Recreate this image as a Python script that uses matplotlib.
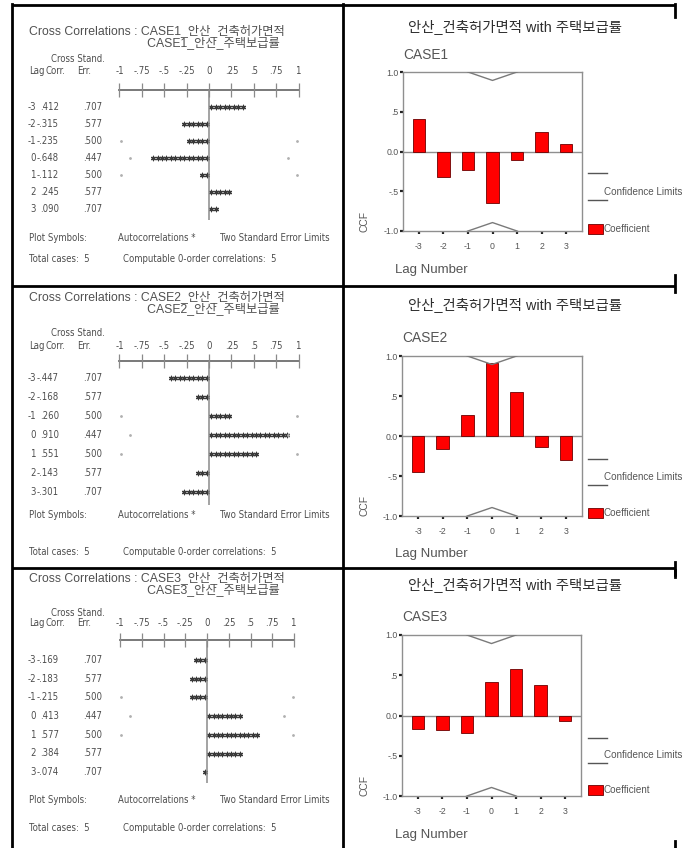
import os
import numpy as np
import matplotlib
matplotlib.use("Agg")
import matplotlib.pyplot as plt
from matplotlib import font_manager as fm
from matplotlib.font_manager import FontProperties

# ---------------- data ----------------
lags = [-3, -2, -1, 0, 1, 2, 3]
std_err = [0.707, 0.577, 0.500, 0.447, 0.500, 0.577, 0.707]
case1_ccf = [0.412, -0.315, -0.235, -0.648, -0.112, 0.245, 0.090]
case2_ccf = [-0.447, -0.168, 0.260, 0.910, 0.551, -0.143, -0.301]
case3_ccf = [-0.169, -0.183, -0.215, 0.413, 0.577, 0.384, -0.074]
case_names = ["CASE1", "CASE2", "CASE3"]
var_x = "안산_건축허가면적"
var_y = "안산_주택보급률"
chart_title = "안산_건축허가면적 with 주택보급률"
scale_ticks = [-1, -0.75, -0.5, -0.25, 0, 0.25, 0.5, 0.75, 1]
scale_labels = ["-1", "-.75", "-.5", "-.25", "0", ".25", ".5", ".75", "1"]
ccf_yticks = [-1.0, -0.5, 0.0, 0.5, 1.0]
ccf_ylabels = ["-1.0", "-.5", "0.0", ".5", "1.0"]
total_cases = 5
all_ccf = [case1_ccf, case2_ccf, case3_ccf]

W, H = 693, 848
fig = plt.figure(figsize=(W / 100, H / 100), dpi=100)
fig.patch.set_facecolor("white")
renderer = fig.canvas.get_renderer()

# ---------------- fonts ----------------
files = [f.fname for f in fm.fontManager.ttflist]
cond_fp = None
for p in ["LiberationSansNarrow-Regular", "DejaVuSansCondensed.ttf",
          "RobotoCondensed-Regular", "Roboto_Condensed-Regular",
          "OpenSans_Condensed-Regular"]:
    m = [x for x in files if os.path.basename(x).startswith(p)]
    if m:
        cond_fp = FontProperties(fname=m[0])
        break
if cond_fp is None:
    cond_fp = FontProperties(family="DejaVu Sans")

mix_family = ["Liberation Sans", "Noto Sans CJK KR", "DejaVu Sans"]
sans_family = ["Liberation Sans", "DejaVu Sans"]


def width_px(s, **kw):
    t = fig.text(0, 0, s, **kw)
    w = t.get_window_extent(renderer).width
    t.remove()
    return w


def fit_size(s, target, **kw):
    return 10.0 * target / width_px(s, fontsize=10, **kw)


def cfp(size):
    fp = cond_fp.copy()
    fp.set_size(size)
    return fp


mono_size = 10.0 * 110 / width_px("Two Standard Error Limits", fontproperties=cfp(10))
head_size = fit_size("Cross Correlations : CASE1_" + var_x, 256, family=mix_family)
title_size = fit_size(chart_title, 214, family=mix_family)
case_size = fit_size("CASE1", 45, family=sans_family)
lagnum_size = fit_size("Lag Number", 73, family=sans_family)
leg_size = fit_size("Confidence Limits", 79, family=sans_family)
tick_size = fit_size("1.0", 12, family=sans_family)

# spaces needed to indent the second header line under the case name
prefix_w = width_px("Cross Correlations : ", family=mix_family, fontsize=head_size)
sp10 = (width_px("x" + " " * 10 + "x", family=mix_family, fontsize=head_size)
        - width_px("xx", family=mix_family, fontsize=head_size)) / 10.0
n_indent = int(round((prefix_w + 7) / sp10))

# ---------------- background / table ----------------
bg = fig.add_axes([0, 0, 1, 1])
bg.set_xlim(0, W)
bg.set_ylim(H, 0)
bg.axis("off")
bg.set_zorder(-1)
lw_tab = 2.0
bg.plot([12, 675], [5, 5], color="black", lw=lw_tab, solid_capstyle="butt")
bg.plot([12, 675], [286, 286], color="black", lw=lw_tab, solid_capstyle="butt")
bg.plot([12, 675], [568, 568], color="black", lw=lw_tab, solid_capstyle="butt")
bg.plot([12, 12], [4, H], color="black", lw=lw_tab)
bg.plot([343, 343], [4, H], color="black", lw=lw_tab)
for y0, y1 in [(4, 17), (275, 292), (562, 575), (570, 577), (841, 848)]:
    bg.plot([675, 675], [y0, y1], color="black", lw=lw_tab)

txt_col = "#4d4d4d"


def fmt(v):
    s = f"{v:.3f}"
    return s.replace("0.", ".", 1)


# ---------------- left (text output) panels ----------------
left_layout = [
    dict(top=5, bottom=286, zx=209, unit=89.5, head=37, cs=59, lg=71, ax_y=90,
         row0=107, dy=17.0, vb=220, ps=238, tc=259),
    dict(top=286, bottom=568, zx=209, unit=89.5, head=303, cs=333, lg=346, ax_y=361,
         row0=378, dy=19.0, vb=505, ps=515, tc=552),
    dict(top=568, bottom=848, zx=207, unit=87.0, head=584, cs=613, lg=623, ax_y=640,
         row0=660, dy=18.7, vb=783, ps=800, tc=828),
]

for ci, L in enumerate(left_layout):
    ccf = all_ccf[ci]
    name = case_names[ci]
    x0, x1 = 12, 343
    ax = fig.add_axes([x0 / W, 1 - L["bottom"] / H, (x1 - x0) / W, (L["bottom"] - L["top"]) / H])
    ax.set_xlim((x0 - L["zx"]) / L["unit"], (x1 - L["zx"]) / L["unit"])
    ax.set_ylim(L["bottom"], L["top"])
    ax.axis("off")
    # scale
    ax.plot([-1, 1], [L["ax_y"], L["ax_y"]], color="#6e6e6e", lw=1.3)
    ax.vlines(scale_ticks, L["ax_y"] - 7, L["ax_y"] + 7, color="#8a8a8a", lw=0.9)
    ax.vlines(0, L["ax_y"], L["vb"], color="#8a8a8a", lw=1.1)
    for tk, tl in zip(scale_ticks, scale_labels):
        ax.text(tk, L["lg"], tl, fontproperties=cfp(mono_size), color=txt_col,
                ha="center", va="center")
    # rows
    for i, (lag, r, se) in enumerate(zip(lags, ccf, std_err)):
        y = L["row0"] + L["dy"] * i
        n = int(round(abs(r) * 20))
        xs = np.sign(r) * (np.arange(n) + 0.5) / 20.0
        ax.scatter(xs, [y] * n, marker=(6, 2, 0), s=10, color="#3a3a3a", lw=0.9)
        lim = 2 * se
        if lim <= 1.0001:
            ax.scatter([-lim * 0.985, lim * 0.985], [y, y], marker=".", s=4, color="#b0b0b0")
        bg.text(36, y, str(lag), fontproperties=cfp(mono_size), color=txt_col, ha="right", va="center")
        bg.text(59, y, fmt(r), fontproperties=cfp(mono_size), color=txt_col, ha="right", va="center")
        bg.text(102, y, fmt(se), fontproperties=cfp(mono_size), color=txt_col, ha="right", va="center")
    # header texts (two lines in one text block)
    header = f"Cross Correlations : {name}_{var_x}\n" + " " * n_indent + f"{name}_{var_y}"
    bg.text(29, L["head"], header, family=mix_family, fontsize=head_size, color="#505050",
            ha="left", va="center", multialignment="left", linespacing=0.78)
    bg.text(51, L["cs"], "Cross Stand.", fontproperties=cfp(mono_size), color=txt_col, ha="left", va="center")
    bg.text(29, L["lg"], "Lag", fontproperties=cfp(mono_size), color=txt_col, ha="left", va="center")
    bg.text(45, L["lg"], "Corr.", fontproperties=cfp(mono_size), color=txt_col, ha="left", va="center")
    bg.text(77, L["lg"], "Err.", fontproperties=cfp(mono_size), color=txt_col, ha="left", va="center")
    bg.text(29, L["ps"], "Plot Symbols:", fontproperties=cfp(mono_size), color=txt_col, ha="left", va="center")
    bg.text(118, L["ps"], "Autocorrelations *", fontproperties=cfp(mono_size), color=txt_col, ha="left", va="center")
    bg.text(220, L["ps"], "Two Standard Error Limits", fontproperties=cfp(mono_size), color=txt_col, ha="left", va="center")
    bg.text(29, L["tc"], f"Total cases:  {total_cases}", fontproperties=cfp(mono_size), color=txt_col, ha="left", va="center")
    bg.text(123, L["tc"], f"Computable 0-order correlations:  {total_cases}", fontproperties=cfp(mono_size),
            color=txt_col, ha="left", va="center")

# ---------------- right (chart) panels ----------------
right_layout = [
    dict(l=403, r=582, t=72, b=231, title=27, case=55, lagnum=270, ccf_y=221,
         leg1=173, legt=192, leg2=200, box=229),
    dict(l=402, r=582, t=356, b=516, title=305, case=338, lagnum=554, ccf_y=505,
         leg1=459, legt=477, leg2=485, box=513),
    dict(l=402, r=581, t=635, b=796, title=585, case=617, lagnum=835, ccf_y=785,
         leg1=738, legt=755, leg2=763, box=790),
]
frame_col = "#8f8f8f"
for ci, R in enumerate(right_layout):
    ccf = all_ccf[ci]
    ax = fig.add_axes([R["l"] / W, 1 - R["b"] / H, (R["r"] - R["l"]) / W, (R["b"] - R["t"]) / H])
    ax.set_xlim(-3.65, 3.65)
    ax.set_ylim(-1.0, 1.0)
    ax.bar(lags, ccf, width=0.52, color="#ff0000", edgecolor="#6b0000", linewidth=0.6, zorder=2)
    ax.axhline(0, color=frame_col, lw=1.0, zorder=1)
    up = [2 * s for s in std_err]
    dn = [-2 * s for s in std_err]
    ax.plot(lags, up, color="#7a7a7a", lw=1.0, zorder=3)
    ax.plot(lags, dn, color="#7a7a7a", lw=1.0, zorder=3)
    for sp in ax.spines.values():
        sp.set_color(frame_col)
        sp.set_linewidth(1.0)
    ax.set_yticks(ccf_yticks)
    ax.set_yticklabels(ccf_ylabels)
    ax.set_xticks(lags)
    ax.set_xticklabels([str(v) for v in lags])
    ax.tick_params(axis="both", direction="out", length=2, width=1.6, color="#222222",
                   labelsize=tick_size, labelcolor="#555555")
    ax.tick_params(axis="y", pad=1)
    ax.tick_params(axis="x", pad=6)
    for lab in ax.get_xticklabels() + ax.get_yticklabels():
        lab.set_family(sans_family)
    # texts
    bg.text(515, R["title"], chart_title, family=mix_family, fontsize=title_size,
            color="#2e2e2e", ha="center", va="center")
    bg.text(R["l"], R["case"], case_names[ci], family=sans_family, fontsize=case_size,
            color="#555555", ha="left", va="center")
    bg.text(395, R["lagnum"], "Lag Number", family=sans_family, fontsize=lagnum_size,
            color="#555555", ha="left", va="center")
    bg.text(364, R["ccf_y"], "CCF", family=sans_family, fontsize=lagnum_size * 0.78,
            color="#555555", ha="center", va="center", rotation=90)
    # legend
    bg.plot([588, 607], [R["leg1"], R["leg1"]], color="#555555", lw=1.0)
    bg.plot([588, 607], [R["leg2"], R["leg2"]], color="#555555", lw=1.0)
    bg.text(604, R["legt"], "Confidence Limits", family=sans_family, fontsize=leg_size,
            color="#555555", ha="left", va="center")
    bg.add_patch(plt.Rectangle((588, R["box"] - 5), 15, 10, facecolor="#ff0000",
                               edgecolor="#6b0000", lw=0.6))
    bg.text(603, R["box"], "Coefficient", family=sans_family, fontsize=leg_size,
            color="#555555", ha="left", va="center")

fig.savefig("out.png", dpi=100, facecolor="white")
